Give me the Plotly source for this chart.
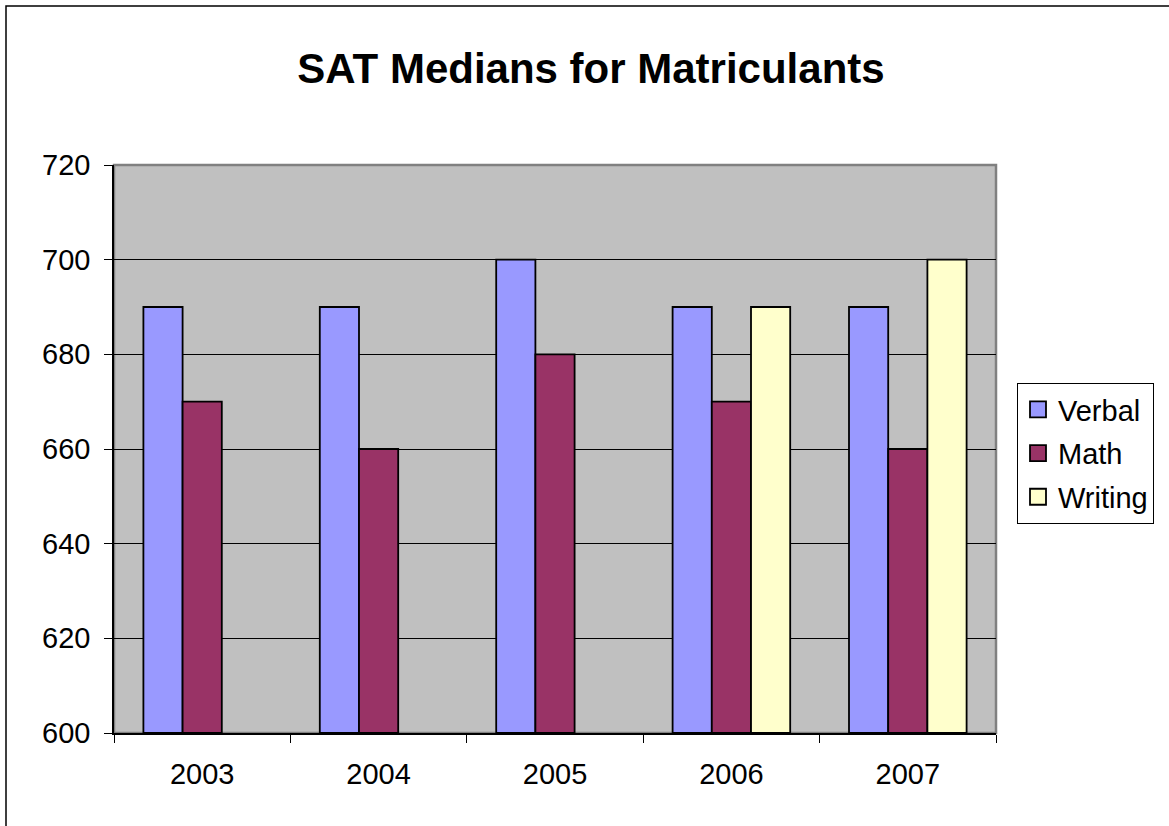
import plotly.graph_objects as go

years = ["2003", "2004", "2005", "2006", "2007"]
verbal = [690, 690, 700, 690, 690]
math = [670, 660, 680, 670, 660]
writing = [None, None, None, 690, 700]

series = [("Verbal", verbal, "#9999FF"), ("Math", math, "#993366"), ("Writing", writing, "#FFFFCC")]

L, R, T, B = 114, 1169 - 996, 165, 826 - 733
W, H = 1169, 826
pw, ph = W - L - R, H - T - B

fig = go.Figure()
for name, vals, col in series:
    fig.add_trace(go.Bar(name=name, x=years, y=[v - 600 if v is not None else None for v in vals],
                         base=600, showlegend=False,
                         marker=dict(color=col, line=dict(color="black", width=1.8))))
# legend entries with larger square swatches
for name, vals, col in series:
    fig.add_trace(go.Scatter(name=name, x=[years[0]], y=[None], mode="markers", legendgroup=name,
                             marker=dict(symbol="square", size=18, color=col,
                                         line=dict(color="black", width=1.8))))

fig.update_layout(
    width=W, height=H,
    margin=dict(l=L, r=R, t=T, b=B),
    paper_bgcolor="white", plot_bgcolor="#C0C0C0",
    barmode="group", bargap=1.5 / 4.5, bargroupgap=0,
    font=dict(family="Liberation Sans, Arial", size=29, color="black"),
    title=dict(text="<b>SAT Medians for Matriculants</b>", x=591 / W, xanchor="center",
               y=1 - 68 / H, yanchor="middle", font=dict(size=42)),
    legend=dict(x=(1017 - L) / pw, xanchor="left", y=1 - (383 - T) / ph, yanchor="top",
                bordercolor="black", borderwidth=1, bgcolor="white",
                font=dict(size=29), itemwidth=30, tracegroupgap=3),
    showlegend=True,
)
fig.update_xaxes(type="category", tickson="boundaries", ticks="outside", ticklen=8, tickcolor="black",
                 showline=True, linecolor="black", linewidth=1.5, showgrid=False,
                 ticklabelstandoff=14)
fig.update_yaxes(range=[600, 720], dtick=20, ticks="outside", ticklen=8, tickcolor="black",
                 showline=True, linecolor="black", linewidth=1.5, gridcolor="black", gridwidth=1,
                 zeroline=False, ticklabelstandoff=8)

# plot area border (gray top/right)
fig.add_shape(type="rect", xref="paper", yref="paper", x0=0, x1=1, y0=0, y1=1,
              line=dict(color="#808080", width=2.5), layer="below")
# outer frame
fig.add_shape(type="rect", xref="paper", yref="paper",
              x0=(6 - L) / pw, x1=(W + 10 - L) / pw, y0=-(H + 10 - T - ph) / ph, y1=1 + (T - 6) / ph,
              line=dict(color="black", width=1.5))

fig.write_html("out.html", config={"displayModeBar": False},
               post_script="document.body.style.margin='0px';")
